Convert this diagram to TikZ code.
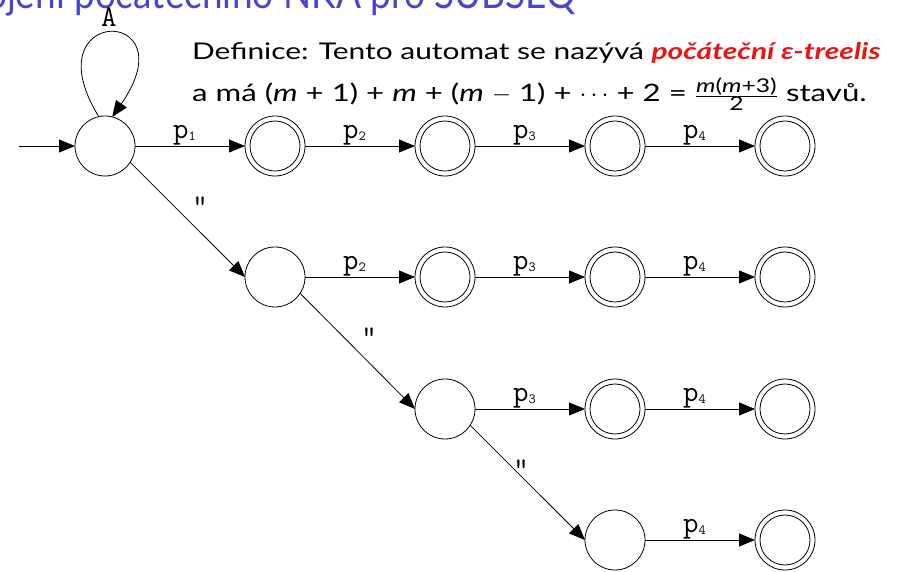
\documentclass[tikz,border=0pt]{standalone}
\usepackage{fontspec}
\setmainfont{Lato}[FakeStretch=1.3]
\newfontfamily\titlefont{Lato}[FakeStretch=0.88]
\usetikzlibrary{arrows.meta}
\definecolor{titleblue}{RGB}{70,70,205}
\definecolor{defred}{RGB}{235,20,20}
\newcommand\pl[1]{p\raisebox{-2pt}{\fontsize{14}{14}\selectfont #1}}
\newcommand\mm{\textit{m}}
\begin{document}
\begin{tikzpicture}[x=1pt,y=1pt,
  st/.style={circle,draw,line width=0.8pt,minimum size=60pt,inner sep=0pt,outer sep=0pt},
  acc/.style={st,path picture={\draw[line width=0.8pt] (path picture bounding box.center) circle (25pt);}},
  arr/.style={-{Triangle[length=16pt,width=13pt]},line width=0.8pt},
  lab/.style={font=\ttfamily\fontsize{30}{30}\selectfont,inner sep=0pt},
  elab/.style={lab,pos=0.45,anchor=south},
  txt/.style={anchor=base west,inner sep=0pt,font=\fontsize{23}{26}\selectfont}
]
\useasboundingbox (0,0) rectangle (906,571);
% title (clipped by the page)
\node[anchor=base east,inner sep=0pt,font=\titlefont\fontsize{42}{42}\selectfont,text=titleblue] (title) at (576,562) {Sestrojení počátečního NKA pro SUBSEQ};
% definition text
\node[txt] (def1) at (192,511) {Definice: Tento automat se nazývá \textcolor{defred}{\textbf{\textit{počáteční ε-treelis}}}};
\node[txt,font=\fontsize{24}{26}\selectfont] (def2) at (192,469) {a má (\mm\ + 1) + \mm\ + (\mm\ $-$ 1) + $\cdots$ + 2 = $\frac{\hbox{\fontsize{19}{19}\selectfont\mm(\mm+3)}}{\hbox{\fontsize{19}{19}\selectfont 2}}$ stavů.};
% states
\node[st]  (q0)  at (105,425) {};
\node[acc] (a11) at (275,425) {};
\node[acc] (a12) at (445,425) {};
\node[acc] (a13) at (615,425) {};
\node[acc] (a14) at (785,425) {};
\node[st]  (q1)  at (275,294) {};
\node[acc] (a22) at (445,294) {};
\node[acc] (a23) at (615,294) {};
\node[acc] (a24) at (785,294) {};
\node[st]  (q2)  at (445,162) {};
\node[acc] (a33) at (615,162) {};
\node[acc] (a34) at (785,162) {};
\node[st]  (q3)  at (615,31) {};
\node[acc] (a44) at (785,31) {};
\coordinate (init) at (19,425);
% edges
\draw[arr] (init) -- (q0);
\draw[arr] (q0.102) .. controls (30,566) and (190,566) .. node[lab,pos=0.5,anchor=base,yshift=6pt] (lA) {A} (q0.76);
\draw[arr] (q0) -- node[elab] {\pl{1}} (a11);
\draw[arr] (a11) -- node[elab] {\pl{2}} (a12);
\draw[arr] (a12) -- node[elab] {\pl{3}} (a13);
\draw[arr] (a13) -- node[elab] {\pl{4}} (a14);
\draw[arr] (q1) -- node[elab] {\pl{2}} (a22);
\draw[arr] (a22) -- node[elab] {\pl{3}} (a23);
\draw[arr] (a23) -- node[elab] {\pl{4}} (a24);
\draw[arr] (q2) -- node[elab] {\pl{3}} (a33);
\draw[arr] (a33) -- node[elab] {\pl{4}} (a34);
\draw[arr] (q3) -- node[elab] {\pl{4}} (a44);
\draw[arr] (q0.-33) -- node[lab,pos=0.5,anchor=base,xshift=12.5pt,yshift=4.5pt] {"} (q1.west);
\draw[arr] (q1.-33) -- node[lab,pos=0.5,anchor=base,xshift=11.5pt,yshift=5pt] {"} (q2.west);
\draw[arr] (q2.-33) -- node[lab,pos=0.5,anchor=base,xshift=-6.5pt,yshift=4.5pt] {"} (q3.west);
\end{tikzpicture}
\end{document}
